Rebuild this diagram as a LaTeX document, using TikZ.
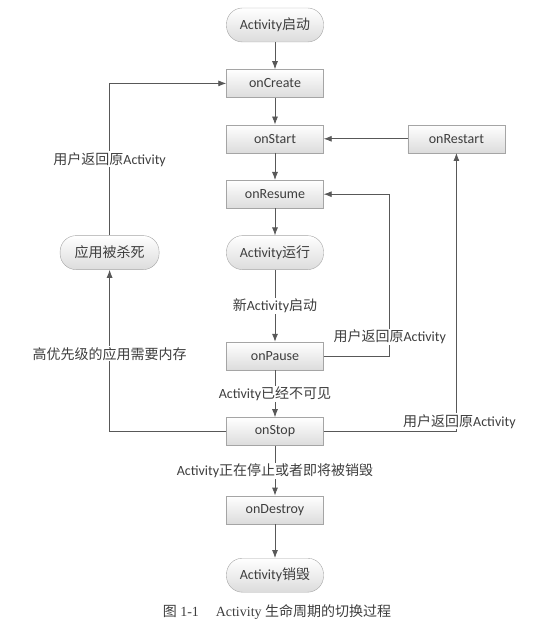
\documentclass[tikz,border=0pt]{standalone}
\usepackage{fontspec}
\setmainfont{Carlito}
\newfontfamily\zhfont{Noto Sans CJK SC}
\newfontfamily\capfont{Liberation Serif}
\newcommand{\zh}[1]{{\zhfont #1}}
\usetikzlibrary{positioning,arrows.meta}
\definecolor{boxline}{RGB}{165,165,165}
\definecolor{boxfill}{RGB}{220,220,220}
\definecolor{txtgray}{RGB}{62,62,62}
\definecolor{linegray}{RGB}{88,88,88}

\begin{document}
\begin{tikzpicture}[
    x=1pt, y=1pt,
    node distance=27pt,
    every node/.style={text=txtgray, font=\fontsize{14}{16}\selectfont},
    box/.style={rectangle, draw=boxline, top color=white, bottom color=boxfill, minimum width=97pt, minimum height=28pt, inner sep=0pt},
    term/.style={box, rounded corners=16pt, minimum height=34pt},
    lbl/.style={fill=white, inner sep=1pt},
    arr/.style={-{Latex[length=8pt,width=6pt]}, draw=linegray, line width=0.8pt}
]
    \useasboundingbox (0,0) rectangle (554,-639);

    \node[term] (launch) at (275,-25) {Activity\zh{启动}};
    \node[box, below=of launch] (create) {onCreate};
    \node[box, below=of create] (start) {onStart};
    \node[box, right=84pt of start] (restart) {onRestart};
    \node[box, below=of start] (resume) {onResume};
    \node[term, below=of resume] (running) {Activity\zh{运行}};
    \node[term, minimum width=99pt, left=67pt of running] (killed) {\zh{应用被杀死}};
    \node[box, below=72pt of running] (pause) {onPause};
    \node[box, below=47pt of pause] (stop) {onStop};
    \node[box, below=50pt of stop] (destroy) {onDestroy};
    \node[term, below=34pt of destroy] (finish) {Activity\zh{销毁}};
    \node[font=\fontsize{14}{16}\capfont] (caption) at (277,-612) {\zh{图} 1-1\hspace{1.2em}Activity \zh{生命周期的切换过程}};

    \draw[arr] (launch) -- (create);
    \draw[arr] (create) -- (start);
    \draw[arr] (start) -- (resume);
    \draw[arr] (resume) -- (running);
    \draw[arr] (running) -- node[lbl] {\zh{新}Activity\zh{启动}} (pause);
    \draw[arr] (pause) -- node[lbl] {Activity\zh{已经不可见}} (stop);
    \draw[arr] (stop) -- node[lbl] {Activity\zh{正在停止或者即将被销毁}} (destroy);
    \draw[arr] (destroy) -- (finish);
    \draw[arr] (restart) -- (start);
    \draw[arr] (pause.east) -- ++(66,0) |- node[pos=0.06, lbl] {\zh{用户返回原}Activity} (resume.east);
    \draw[arr] (stop) -| node[pos=0.5, lbl, xshift=3pt, yshift=10pt] {\zh{用户返回原}Activity} (restart);
    \draw[arr] (stop) -| node[pos=0.74, lbl] {\zh{高优先级的应用需要内存}} (killed);
    \draw[arr] (killed) |- node[pos=0.25, lbl] {\zh{用户返回原}Activity} (create);
\end{tikzpicture}
\end{document}
